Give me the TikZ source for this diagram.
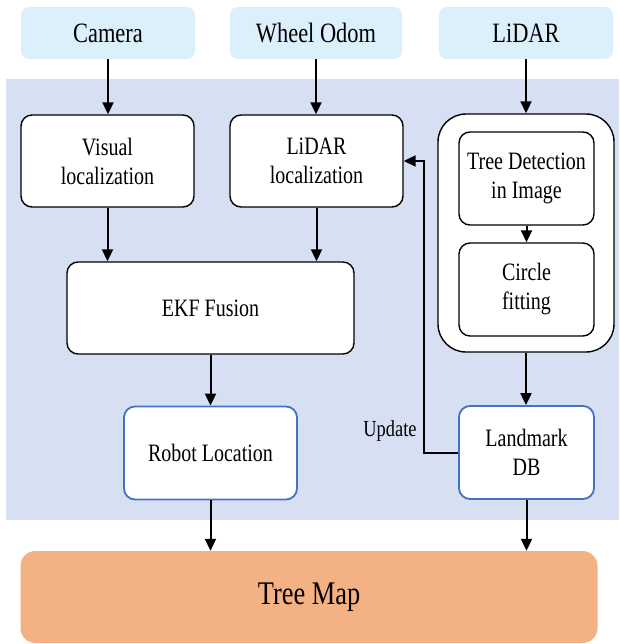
\documentclass[tikz,border=0pt]{standalone}
\usepackage{fontspec}
\setmainfont{Liberation Serif}[FakeStretch=0.8]
\usetikzlibrary{arrows.meta}
\definecolor{srcfill}{HTML}{DCF0FC}
\definecolor{panel}{HTML}{D6E0F2}
\definecolor{mapfill}{HTML}{F4B183}
\definecolor{edgeblue}{HTML}{4472C4}
\tikzset{
  block/.style={draw=black, line width=1.4pt, fill=white, rounded corners=11pt,
    align=center, inner sep=0pt, font=\fontsize{25}{29}\selectfont},
  result/.style={block, draw=edgeblue, line width=1.8pt},
  source/.style={fill=srcfill, rounded corners=8pt, inner sep=0pt,
    font=\fontsize{28}{32}\selectfont},
  flow/.style={line width=2pt, -{Triangle[length=12pt,width=11pt]}},
}
\begin{document}
\begin{tikzpicture}[x=1pt, y=-1pt]
\useasboundingbox (0,0) rectangle (619,644);
% shaded processing area
\fill[panel] (6,79) rectangle (619,520);

% sensor inputs
\node[source, minimum width=174pt, minimum height=52pt] (cam)   at (108,33)   {Camera};
\node[source, minimum width=172pt, minimum height=52pt] (odom)  at (316,33)   {Wheel Odom};
\node[source, minimum width=174pt, minimum height=52pt] (lidar) at (526,33)   {LiDAR};

% localization branch
\node[block, minimum width=173pt, minimum height=92pt] (vis)    at (107.5,161) {Visual\\localization};
\node[block, minimum width=173pt, minimum height=92pt] (lidloc) at (316.5,161) {LiDAR\\localization};
\node[block, minimum width=287pt, minimum height=92pt] (ekf)    at (210.5,308) {EKF Fusion};
\node[result, minimum width=173pt, minimum height=93pt] (robot) at (210.5,453) {Robot Location};

% tree landmark branch
\node[block, rounded corners=28pt, minimum width=176pt, minimum height=238pt] (outer) at (526,233) {};
\node[block, minimum width=135pt, minimum height=93pt] (det) at (526.5,178.5) {Tree Detection\\in Image};
\node[block, minimum width=135pt, minimum height=93pt] (fit) at (526.5,289.5) {Circle\\fitting};
\node[result, minimum width=135pt, minimum height=93pt] (land) at (526.5,452.5) {Landmark\\DB};

% output map
\node[fill=mapfill, rounded corners=15pt, minimum width=577pt, minimum height=92pt,
  font=\fontsize{33}{38}\selectfont] (map) at (309,597) {Tree Map};

% connectors
\draw[flow] (cam.south) -- (cam.south |- vis.north);
\draw[flow] (odom.south) -- (odom.south |- lidloc.north);
\draw[flow] (lidar.south) -- (lidar.south |- outer.north);
\draw[flow] (vis.south) -- (vis.south |- ekf.north);
\draw[flow] (lidloc.south) -- (lidloc.south |- ekf.north);
\draw[flow] (ekf.south) -- (robot.north);
\draw[flow] (det.south) -- (fit.north);
\draw[flow] (outer.south) -- (outer.south |- land.north);
\draw[flow] (robot.south) -- (robot.south |- map.north);
\draw[flow] (land.south) -- (land.south |- map.north);
\draw[flow] (land.west) -- ++(-34,0) coordinate (turn) |- (lidloc.east);
\node[font=\fontsize{23}{27}\selectfont] (upd) at (390,431) {Update};
\end{tikzpicture}
\end{document}
